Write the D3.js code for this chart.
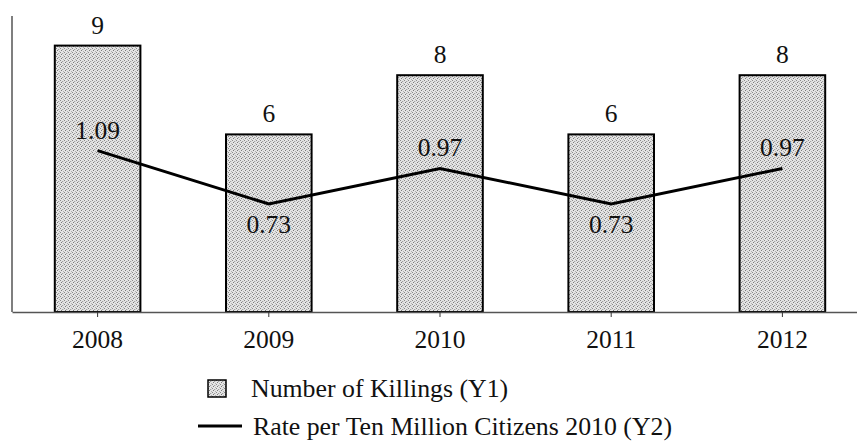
<!DOCTYPE html>
<html>
<head>
<meta charset="utf-8">
<script src="https://cdn.jsdelivr.net/npm/d3@7"></script>
<style>
  html, body { margin: 0; padding: 0; background: #fff; }
</style>
</head>
<body>
<svg id="chart" width="857" height="441"></svg>
<script>
const years = ['2008', '2009', '2010', '2011', '2012'];
const killings = [9, 6, 8, 6, 8];
const rates = [1.09, 0.73, 0.97, 0.73, 0.97];
const rateLabels = ['1.09', '0.73', '0.97', '0.73', '0.97'];
const rateLabelBelow = [false, true, false, true, false];
const legendLabels = ['Number of Killings (Y1)', 'Rate per Ten Million Citizens 2010 (Y2)'];

const FONT = "'Liberation Serif', 'Times New Roman', Tinos, 'DejaVu Serif', serif";
const svg = d3.select('#chart').attr('font-family', FONT);
const plotLeft = 12, plotBase = 312, plotTop = 16;

const x = d3.scaleBand().domain(years).range([plotLeft, 868]).paddingInner(0.5).paddingOuter(0.25);
const y1 = d3.scaleLinear().domain([0, 10]).range([plotBase, plotTop]);
const y2 = d3.scaleLinear().domain([0, 2]).range([plotBase, plotTop]);

// speckled grey fill like the print
const defs = svg.append('defs');
const pat = defs.append('pattern').attr('id', 'speckle').attr('patternUnits', 'userSpaceOnUse')
  .attr('width', 4).attr('height', 4);
pat.append('rect').attr('width', 4).attr('height', 4).attr('fill', '#e4e4e4');
[[0, 0, '#8a8a8a'], [2, 1, '#a0a0a0'], [1, 2, '#7a7a7a'], [3, 3, '#b0b0b0'], [3, 1, '#d0d0d0']].forEach(([px, py, c]) =>
  pat.append('rect').attr('x', px).attr('y', py).attr('width', 1).attr('height', 1).attr('fill', c));

// bars
svg.append('g').selectAll('rect').data(years).join('rect')
  .attr('x', d => x(d))
  .attr('y', (d, i) => y1(killings[i]))
  .attr('width', x.bandwidth())
  .attr('height', (d, i) => plotBase - y1(killings[i]))
  .attr('fill', 'url(#speckle)')
  .attr('stroke', '#000').attr('stroke-width', 2);

// axes
svg.append('line').attr('x1', plotLeft).attr('x2', plotLeft).attr('y1', plotTop).attr('y2', plotBase)
  .attr('stroke', '#555').attr('stroke-width', 1.5);
const xAxis = svg.append('g').attr('transform', `translate(0,${plotBase})`)
  .call(d3.axisBottom(x).tickSize(5).tickSizeOuter(0).tickPadding(8));
xAxis.attr('font-family', FONT);
xAxis.select('.domain').attr('stroke', '#555').attr('stroke-width', 1.5);
xAxis.selectAll('.tick line').attr('stroke', '#333');
xAxis.selectAll('text').attr('font-size', 25.5).attr('fill', '#111').attr('dy', null).attr('y', 36);

// bar labels
svg.append('g').selectAll('text').data(years).join('text')
  .attr('x', d => x(d) + x.bandwidth() / 2)
  .attr('y', (d, i) => y1(killings[i]) - 12)
  .attr('text-anchor', 'middle').attr('font-size', 25.5).attr('fill', '#111')
  .text((d, i) => killings[i]);

// rate line
const cx = d => x(d) + x.bandwidth() / 2;
svg.append('path').datum(years)
  .attr('d', d3.line().x(cx).y((d, i) => y2(rates[i])))
  .attr('fill', 'none').attr('stroke', '#000').attr('stroke-width', 3);

svg.append('g').selectAll('text').data(years).join('text')
  .attr('x', cx)
  .attr('y', (d, i) => rateLabelBelow[i] ? y2(rates[i]) + 29 : y2(rates[i]) - 12)
  .attr('text-anchor', 'middle').attr('font-size', 25.5).attr('fill', '#111')
  .text((d, i) => rateLabels[i]);

// legend
const lg = svg.append('g');
lg.append('rect').attr('x', 208).attr('y', 380).attr('width', 18).attr('height', 17)
  .attr('fill', 'url(#speckle)').attr('stroke', '#000').attr('stroke-width', 1.5);
lg.append('text').attr('x', 251).attr('y', 397).attr('font-size', 25.8).attr('fill', '#111').text(legendLabels[0]);
lg.append('line').attr('x1', 198).attr('x2', 242).attr('y1', 426).attr('y2', 426)
  .attr('stroke', '#000').attr('stroke-width', 3);
lg.append('text').attr('x', 253).attr('y', 435).attr('font-size', 25.8).attr('fill', '#111').text(legendLabels[1]);
</script>
</body>
</html>
